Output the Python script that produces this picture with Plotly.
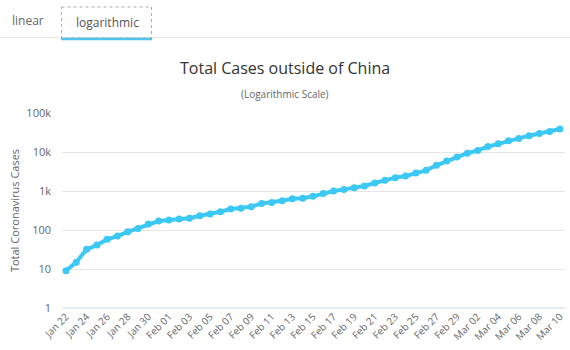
import plotly.graph_objects as go

dates = ["Jan 22", "Jan 23", "Jan 24", "Jan 25", "Jan 26", "Jan 27", "Jan 28", "Jan 29", "Jan 30", "Jan 31",
         "Feb 01", "Feb 02", "Feb 03", "Feb 04", "Feb 05", "Feb 06", "Feb 07", "Feb 08", "Feb 09", "Feb 10",
         "Feb 11", "Feb 12", "Feb 13", "Feb 14", "Feb 15", "Feb 16", "Feb 17", "Feb 18", "Feb 19", "Feb 20",
         "Feb 21", "Feb 22", "Feb 23", "Feb 24", "Feb 25", "Feb 26", "Feb 27", "Feb 28", "Feb 29", "Mar 01",
         "Mar 02", "Mar 03", "Mar 04", "Mar 05", "Mar 06", "Mar 07", "Mar 08", "Mar 09", "Mar 10"]
cases = [9, 15, 32, 41, 58, 70, 90, 110, 142, 170,
         180, 192, 200, 233, 258, 295, 345, 360, 397, 480,
         510, 565, 630, 650, 730, 858, 1000, 1100, 1220, 1340,
         1600, 1880, 2200, 2430, 2890, 3390, 4560, 5890, 7440, 9300,
         11000, 13800, 16200, 19500, 22300, 26200, 30000, 33700, 39000]
ytick_vals = [1, 10, 100, 1000, 10000, 100000]
ytick_text = ["1", "10", "100", "1k", "10k", "100k"]

W, H = 570, 350
L, R, T, B = 62, 5, 113, 42
PW, PH = W - L - R, H - T - B

def px(x):
    return (x - L) / PW

def py(y):
    return (H - B - y) / PH

fig = go.Figure()
fig.add_trace(go.Scatter(
    x=dates, y=cases, mode="lines+markers",
    line=dict(color="#3cc8f5", width=4),
    marker=dict(color="#3cc8f5", size=7),
    hoverinfo="x+y", showlegend=False,
))

font = "Open Sans, DejaVu Sans, sans-serif"
fig.update_layout(
    width=W, height=H,
    margin=dict(l=L, r=R, t=T, b=B, pad=0),
    paper_bgcolor="white", plot_bgcolor="white",
    font=dict(family=font, color="#666666", size=11),
    xaxis=dict(
        type="category", range=[-0.39, 48.49],
        tickvals=dates[::2], tickangle=-45,
        showgrid=False, zeroline=False, showline=False,
        ticks="", tickfont=dict(size=10, color="#666666"),
    ),
    yaxis=dict(
        type="log", range=[0, 5],
        tickvals=ytick_vals, ticktext=ytick_text,
        showgrid=True, gridcolor="#e6e6e6", gridwidth=1,
        zeroline=False, showline=False, ticks="",
        ticklabelstandoff=10,
        tickfont=dict(size=11, color="#666666"),
        title=dict(text="Total Coronavirus Cases", font=dict(size=11, color="#666666"), standoff=4),
    ),
    shapes=[
        dict(type="line", xref="paper", yref="paper", x0=px(0), x1=px(W), y0=py(37.5), y1=py(37.5),
             line=dict(color="#e6e6e6", width=1)),
        dict(type="rect", xref="paper", yref="paper", x0=px(61.5), x1=px(151.5), y0=py(7), y1=py(38),
             line=dict(color="#aaaaaa", width=1, dash="dot")),
        dict(type="line", xref="paper", yref="paper", x0=px(61), x1=px(152), y0=py(39), y1=py(39),
             line=dict(color="#4fc3ea", width=2.5)),
        dict(type="line", xref="paper", yref="paper", x0=0, x1=1, y0=0, y1=0,
             line=dict(color="#ccd6eb", width=1)),
    ],
    annotations=[
        dict(text="linear", xref="paper", yref="paper", x=px(28), y=py(21), showarrow=False,
             xanchor="center", yanchor="middle", font=dict(size=12, color="#666666")),
        dict(text="logarithmic", xref="paper", yref="paper", x=px(107), y=py(22), showarrow=False,
             xanchor="center", yanchor="middle", font=dict(size=12, color="#555555")),
        dict(text="Total Cases outside of China", xref="paper", yref="paper", x=px(285), y=py(68),
             showarrow=False, xanchor="center", yanchor="middle", font=dict(size=16, color="#333333")),
        dict(text="(Logarithmic Scale)", xref="paper", yref="paper", x=px(285), y=py(94),
             showarrow=False, xanchor="center", yanchor="middle", font=dict(size=10, color="#666666")),
    ],
)

fig.write_html("out.html")
